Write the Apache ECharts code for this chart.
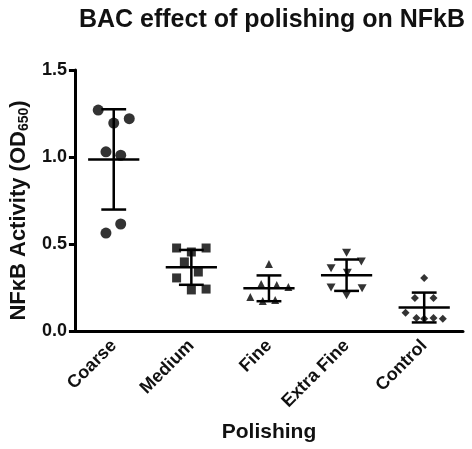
<!DOCTYPE html>
<html>
<head>
<meta charset="utf-8">
<script src="https://cdn.jsdelivr.net/npm/echarts@6/dist/echarts.min.js"></script>
<style>
  html, body { margin: 0; padding: 0; background: #fff; }
  #chart { width: 472px; height: 449px; }
</style>
</head>
<body>
<div id="chart"></div>
<script>
const categories = ["Coarse", "Medium", "Fine", "Extra Fine", "Control"];
const yTicks = [0, 0.5, 1.0, 1.5];

// readings per group, with the horizontal scatter offset of each point (in category widths)
const coarse = [1.27, 1.195, 1.22, 1.03, 1.01, 0.615, 0.563];
const coarseJitter = [-0.2, 0, 0.2, -0.1, 0.09, 0.09, -0.1];
const medium = [0.477, 0.454, 0.477, 0.397, 0.339, 0.305, 0.236, 0.241];
const mediumJitter = [-0.19, 0, 0.19, -0.09, 0.09, -0.19, 0, 0.19];
const fine = [0.385, 0.27, 0.264, 0.253, 0.195, 0.172, 0.178];
const fineJitter = [0, -0.1, 0.1, 0.25, -0.24, -0.08, 0.08];
const extraFine = [0.45, 0.40, 0.36, 0.335, 0.25, 0.245, 0.205];
const extraFineJitter = [0, 0.19, -0.2, 0.01, -0.2, 0.2, 0];
const control = [0.305, 0.19, 0.19, 0.105, 0.075, 0.07, 0.075, 0.07];
const controlJitter = [0, -0.12, 0.12, -0.24, -0.1, 0, 0.12, 0.24];

const groups = [coarse, medium, fine, extraFine, control];
const jitters = [coarseJitter, mediumJitter, fineJitter, extraFineJitter, controlJitter];
const symbols = [
  { symbol: "circle", size: 11 },
  { symbol: "rect", size: 9 },
  { symbol: "triangle", size: 8 },
  { symbol: "path://M0,0 L10,0 L5,9 Z", size: [9, 8] },
  { symbol: "diamond", size: 8 },
];

function meanSd(arr) {
  const m = arr.reduce((a, b) => a + b, 0) / arr.length;
  const v = arr.reduce((a, b) => a + (b - m) * (b - m), 0) / (arr.length - 1);
  return [m, Math.sqrt(v)];
}

const stats = groups.map((g, i) => {
  const [m, s] = meanSd(g);
  return [i, m, m - s, m + s];
});

const font = "Liberation Sans, Arial, sans-serif";

const scatterSeries = groups.map((g, i) => ({
  type: "scatter",
  name: categories[i],
  xAxisIndex: 1,
  symbol: symbols[i].symbol,
  symbolSize: symbols[i].size,
  itemStyle: { color: "#000" },
  data: g.map((v, k) => [i + jitters[i][k], v]),
  z: 3,
}));

const errorSeries = {
  type: "custom",
  xAxisIndex: 1,
  data: stats,
  z: 4,
  renderItem: function (params, api) {
    const i = api.value(0);
    const mid = api.coord([i, api.value(1)]);
    const lo = api.coord([i, api.value(2)]);
    const hi = api.coord([i, api.value(3)]);
    const band = api.size([1, 0])[0];
    const mw = band * 0.33;
    const cw = band * 0.16;
    const style = { stroke: "#000", lineWidth: 2.5 };
    return {
      type: "group",
      children: [
        { type: "line", shape: { x1: mid[0] - mw, y1: mid[1], x2: mid[0] + mw, y2: mid[1] }, style },
        { type: "line", shape: { x1: lo[0], y1: lo[1], x2: hi[0], y2: hi[1] }, style },
        { type: "line", shape: { x1: hi[0] - cw, y1: hi[1], x2: hi[0] + cw, y2: hi[1] }, style },
        { type: "line", shape: { x1: lo[0] - cw, y1: lo[1], x2: lo[0] + cw, y2: lo[1] }, style },
      ],
    };
  },
};

const option = {
  animation: false,
  backgroundColor: "#fff",
  title: {
    text: "BAC effect of polishing on NFkB",
    left: 267,
    textAlign: "center",
    top: 3,
    textStyle: { fontFamily: font, fontWeight: "bold", fontSize: 25, color: "#111" },
  },
  grid: { left: 73, right: 9, top: 70, bottom: 118, containLabel: false },
  xAxis: [
    {
      type: "category",
      data: categories,
      name: "Polishing",
      nameLocation: "middle",
      nameGap: 91,
      nameTextStyle: { fontFamily: font, fontWeight: "bold", fontSize: 21, color: "#111" },
      axisLine: { lineStyle: { color: "#000", width: 3 } },
      axisTick: { alignWithLabel: true, length: 6, lineStyle: { color: "#000", width: 3 } },
      axisLabel: {
        rotate: 45,
        margin: 12,
        fontFamily: font,
        fontWeight: "bold",
        fontSize: 18,
        color: "#111",
      },
      splitLine: { show: false },
    },
    {
      type: "value",
      min: -0.5,
      max: 4.5,
      show: false,
      splitLine: { show: false },
    },
  ],
  yAxis: {
    type: "value",
    min: yTicks[0],
    max: yTicks[yTicks.length - 1],
    interval: 0.5,
    name: "{a|NFκB Activity (OD}{s|650}{a|)}",
    nameLocation: "middle",
    nameRotate: 90,
    nameGap: 36,
    nameTextStyle: {
      padding: [0, 20, 0, 0],
      rich: {
        a: { fontFamily: font, fontWeight: "bold", fontSize: 22, color: "#111" },
        s: { fontFamily: font, fontWeight: "bold", fontSize: 14, color: "#111", verticalAlign: "bottom", padding: [10, 0, 0, 0] },
      },
    },
    axisLine: { show: true, onZero: false, lineStyle: { color: "#000", width: 3 } },
    axisTick: { show: true, length: 6, lineStyle: { color: "#000", width: 3 } },
    axisLabel: {
      margin: 8,
      fontFamily: font,
      fontWeight: "bold",
      fontSize: 18,
      color: "#111",
      formatter: (v) => v.toFixed(1),
    },
    splitLine: { show: false },
  },
  series: [...scatterSeries, errorSeries],
};

const chart = echarts.init(document.getElementById("chart"));
chart.setOption(option);
window.addEventListener("resize", () => chart.resize());
</script>
</body>
</html>
